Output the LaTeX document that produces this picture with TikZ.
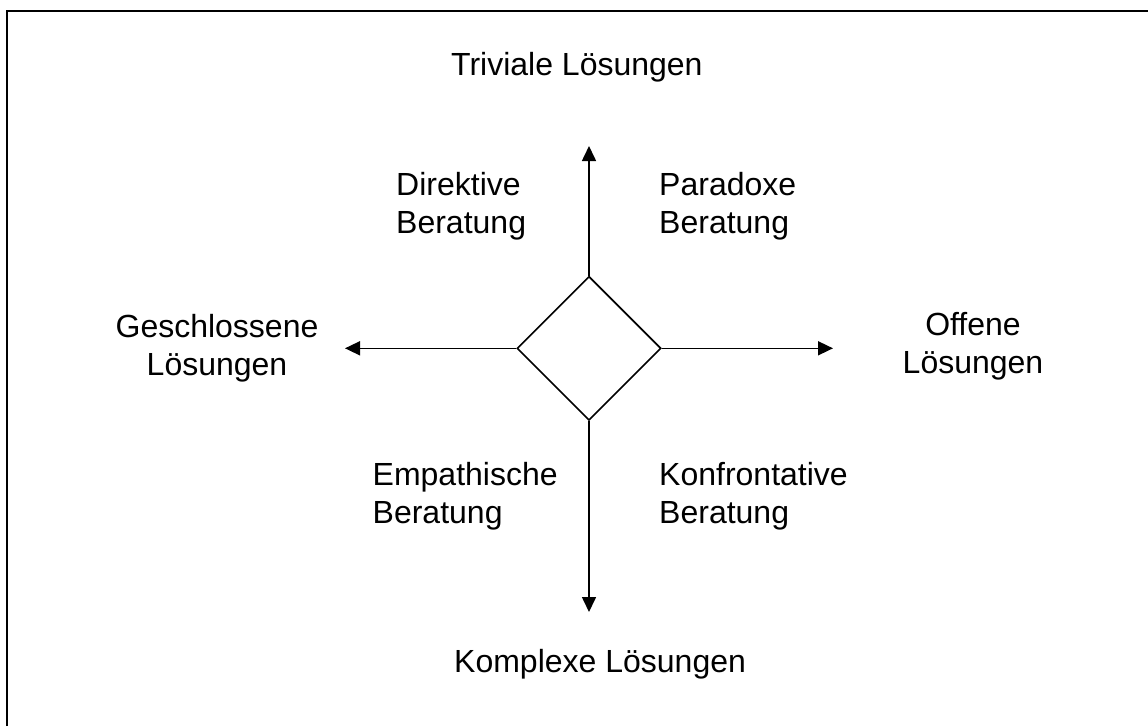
\documentclass[tikz,border=0pt]{standalone}
\usepackage{fontspec}
\setmainfont{Liberation Sans}
\usetikzlibrary{arrows.meta,shapes.geometric}

\tikzset{
  achse/.style={line width=1.6pt, arrows={-Triangle[length=15pt,width=14pt]}},
  feld/.style={inner sep=0pt, font=\fontsize{32}{38}\selectfont},
}

\begin{document}
\begin{tikzpicture}[x=1pt,y=-1pt]
\useasboundingbox (0,0) rectangle (1148,726);

% =====================
% RAHMEN
% =====================
\draw[line width=1.8pt] (7,726) -- (7,11) -- (1148,11);

% =====================
% RAUTE UND ACHSEN
% =====================
\node[draw, diamond, line width=1.6pt, inner sep=0pt,
  minimum width=144pt, minimum height=144pt] (mitte) at (589,348.3) {};
\coordinate (oben) at (589,146);
\coordinate (unten) at (589,612);
\coordinate (links) at (345,348.3);
\coordinate (rechts) at (833,348.3);
\draw[achse] (mitte.north) -- (oben);
\draw[achse] (mitte.south) -- (unten);
\draw[achse] (mitte.west) -- (links);
\draw[achse] (mitte.east) -- (rechts);

% =====================
% ACHSENBESCHRIFTUNG
% =====================
\node[feld, anchor=base west] (trivial) at (451,75) {Triviale Lösungen};
\node[feld, anchor=base west] (komplex) at (454,672) {Komplexe Lösungen};
\node[feld, anchor=base, align=center] (geschlossen) at (217,375) {Geschlossene\\Lösungen};
\node[feld, anchor=base, align=center] (offen) at (973,373) {Offene\\Lösungen};

% =====================
% QUADRANTEN
% =====================
\node[feld, anchor=base west, align=left] (direktiv) at (396,233) {Direktive\\Beratung};
\node[feld, anchor=base west, align=left] (paradox) at (659,233) {Paradoxe\\Beratung};
\node[feld, anchor=base west, align=left] (empathisch) at (372.5,523) {Empathische\\Beratung};
\node[feld, anchor=base west, align=left] (konfrontativ) at (659,523) {Konfrontative\\Beratung};

\end{tikzpicture}
\end{document}
